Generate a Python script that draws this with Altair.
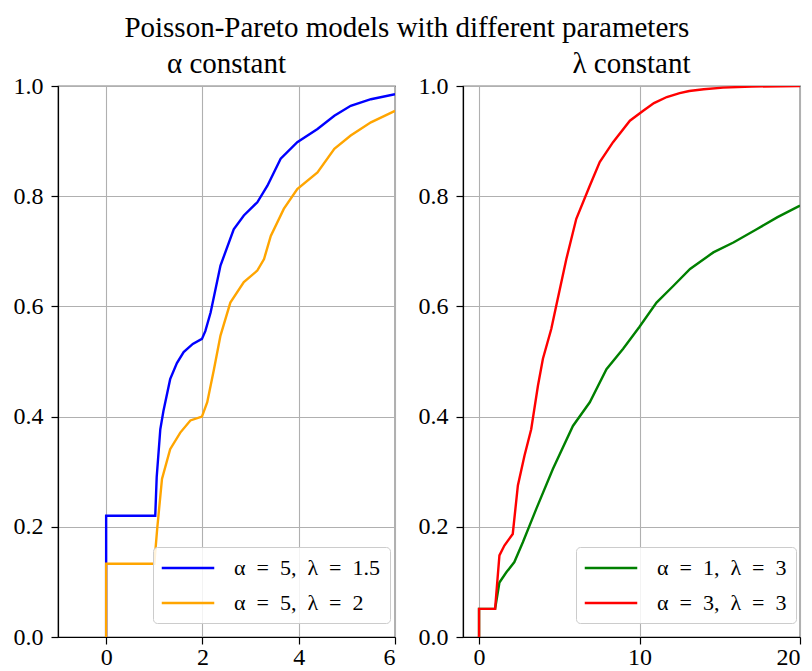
import altair as alt
import pandas as pd

# ---- data ----
blue_x = [0, 0, 1.0, 1.02, 1.05, 1.125, 1.19, 1.33, 1.47, 1.61, 1.8, 1.99, 2.06, 2.17, 2.375, 2.65, 2.86, 3.14, 3.35, 3.625, 3.97, 4.39, 4.74, 5.08, 5.5, 6.0]
blue_y = [0, 0.22, 0.22, 0.22, 0.29, 0.377, 0.41, 0.468, 0.497, 0.517, 0.532, 0.541, 0.555, 0.589, 0.674, 0.740, 0.765, 0.789, 0.819, 0.868, 0.898, 0.922, 0.946, 0.964, 0.976, 0.985]

orange_x = [0, 0, 1.0, 1.06, 1.16, 1.33, 1.54, 1.75, 1.99, 2.10, 2.24, 2.375, 2.58, 2.86, 3.14, 3.28, 3.42, 3.69, 3.97, 4.39, 4.74, 5.08, 5.5, 6.0]
orange_y = [0, 0.133, 0.133, 0.196, 0.287, 0.341, 0.371, 0.393, 0.40, 0.426, 0.486, 0.547, 0.607, 0.644, 0.665, 0.686, 0.728, 0.777, 0.813, 0.843, 0.886, 0.910, 0.934, 0.955]

green_x = [0, 0, 1.0, 1.27, 1.69, 2.2, 2.73, 3.56, 4.6, 5.85, 6.9, 7.94, 8.98, 10.0, 11.06, 12.1, 13.15, 14.6, 15.85, 17.3, 18.6, 20.0]
green_y = [0, 0.051, 0.051, 0.099, 0.117, 0.136, 0.172, 0.232, 0.305, 0.383, 0.426, 0.486, 0.523, 0.563, 0.607, 0.637, 0.668, 0.698, 0.716, 0.740, 0.762, 0.783]

red_x = [0, 0, 1.0, 1.27, 1.58, 2.1, 2.42, 2.83, 3.25, 3.67, 3.98, 4.5, 4.81, 5.44, 6.06, 6.9, 7.52, 8.35, 9.4, 10.23, 10.9, 11.7, 12.5, 13.1, 14.0, 15.2, 17.0, 20.0]
red_y = [0, 0.051, 0.051, 0.148, 0.166, 0.187, 0.275, 0.329, 0.377, 0.456, 0.505, 0.559, 0.601, 0.686, 0.759, 0.819, 0.862, 0.898, 0.937, 0.955, 0.969, 0.980, 0.987, 0.991, 0.994, 0.997, 0.999, 1.0]

S = "\u00a0\u00a0"  # wider gaps, imitating math spacing
left_labels = [f"α{S}={S}5,{S}λ{S}={S}1.5", f"α{S}={S}5,{S}λ{S}={S}2"]
right_labels = [f"α{S}={S}1,{S}λ{S}={S}3", f"α{S}={S}3,{S}λ{S}={S}3"]
left_colors = ["#0000ff", "#ffa500"]
right_colors = ["#008000", "#ff0000"]

left_ticks = [0, 2, 4, 6]
right_ticks = [0, 10, 20]
y_ticks = [0, 0.2, 0.4, 0.6, 0.8, 1.0]


def frame(xs, ys, name):
    return pd.DataFrame({"x": xs, "y": ys, "series": name, "i": range(len(xs))})


left_df = pd.concat([frame(blue_x, blue_y, left_labels[0]),
                     frame(orange_x, orange_y, left_labels[1])])
right_df = pd.concat([frame(green_x, green_y, right_labels[0]),
                      frame(red_x, red_y, right_labels[1])])

FONT = "Liberation Serif"


def panel(df, title, xdom, xticks, labels, colors, lx):
    return alt.Chart(df, title=alt.TitleParams(title, fontSize=29, font=FONT, fontWeight="normal", offset=-5)).mark_line(
        strokeWidth=2.4, clip=True
    ).encode(
        x=alt.X("x:Q", scale=alt.Scale(domain=xdom, nice=False, zero=False),
                axis=alt.Axis(values=xticks, title=None, format="d", labelPadding=1)),
        y=alt.Y("y:Q", scale=alt.Scale(domain=[0, 1], nice=False),
                axis=alt.Axis(values=y_ticks, title=None, format=".1f", labelPadding=8)),
        color=alt.Color("series:N", sort=labels,
                        scale=alt.Scale(domain=labels, range=colors),
                        legend=alt.Legend(title=None, orient="none", legendX=lx, legendY=461)),
        order="i:Q",
    ).properties(width=337, height=551)


left = panel(left_df, "α constant", [-1, 6], left_ticks, left_labels, left_colors, 95)
right = panel(right_df, "λ constant", [-1, 20], right_ticks, right_labels, right_colors, 113)

chart = alt.hconcat(left, right, spacing=20).resolve_scale(color="independent").properties(
    title=alt.TitleParams("Poisson-Pareto models with different parameters", fontSize=29,
                          font=FONT, fontWeight="normal", anchor="middle", offset=6),
    padding={"left": 12, "top": 14, "right": 0, "bottom": 0},
    background="white",
).configure_view(stroke="black", strokeWidth=1.2).configure_axis(
    labelFont=FONT, labelFontSize=24, labelColor="black",
    tickColor="black", tickSize=7, tickWidth=1.2,
    domainColor="black", domainWidth=1.2,
    gridColor="#b0b0b0", gridWidth=1.1,
).configure_legend(
    labelFont=FONT, labelFontSize=22, labelColor="black",
    symbolType="M-2.5,0H2.5", symbolSize=441, symbolStrokeWidth=2.5,
    symbolOffset=14,
    fillColor="rgba(255,255,255,0.85)", strokeColor="#cccccc", cornerRadius=4,
    padding=9, rowPadding=12, labelOffset=34, labelLimit=300,
).configure_title(color="black")

chart.save("out.html", embed_options={"renderer": "svg", "actions": False})
